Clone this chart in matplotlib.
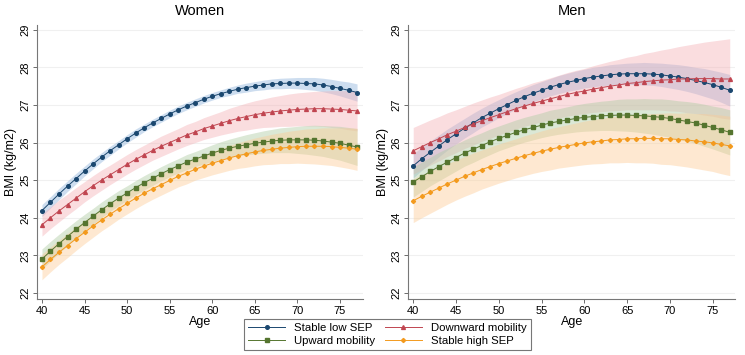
import numpy as np
import matplotlib
matplotlib.use("Agg")
import matplotlib.pyplot as plt

plt.rcParams["font.family"] = ["Liberation Sans", "DejaVu Sans"]

ages = np.arange(40, 78)

groups = ["Stable low SEP", "Downward mobility", "Upward mobility", "Stable high SEP"]

# Women: predicted BMI per age
w_low = [24.19, 24.41, 24.63, 24.84, 25.04, 25.24, 25.43, 25.61, 25.78, 25.94,
         26.10, 26.25, 26.39, 26.52, 26.64, 26.76, 26.87, 26.97, 27.06, 27.15,
         27.23, 27.30, 27.36, 27.42, 27.46, 27.50, 27.53, 27.56, 27.57, 27.58,
         27.58, 27.57, 27.56, 27.53, 27.49, 27.44, 27.39, 27.33]
w_down = [23.81, 24.00, 24.18, 24.35, 24.52, 24.69, 24.85, 25.00, 25.14, 25.28,
          25.42, 25.55, 25.67, 25.79, 25.90, 26.00, 26.10, 26.20, 26.28, 26.37,
          26.44, 26.51, 26.58, 26.64, 26.69, 26.74, 26.78, 26.81, 26.84, 26.86,
          26.88, 26.89, 26.90, 26.90, 26.89, 26.88, 26.86, 26.84]
w_up = [22.90, 23.11, 23.31, 23.50, 23.69, 23.87, 24.04, 24.21, 24.37, 24.52,
        24.66, 24.80, 24.93, 25.05, 25.17, 25.28, 25.38, 25.48, 25.56, 25.64,
        25.72, 25.79, 25.85, 25.90, 25.94, 25.98, 26.01, 26.04, 26.06, 26.07,
        26.07, 26.07, 26.06, 26.04, 26.01, 25.98, 25.93, 25.88]
w_high = [22.69, 22.89, 23.08, 23.26, 23.44, 23.61, 23.78, 23.94, 24.09, 24.24,
          24.38, 24.52, 24.65, 24.77, 24.88, 24.99, 25.10, 25.19, 25.29, 25.37,
          25.45, 25.52, 25.59, 25.65, 25.70, 25.75, 25.79, 25.82, 25.85, 25.87,
          25.89, 25.90, 25.90, 25.90, 25.89, 25.87, 25.85, 25.82]

# Women: 95% CI half-widths
w_low_ci = [.16, .15, .15, .14, .14, .13, .13, .12, .12, .11, .11, .11, .10, .10,
            .10, .10, .10, .10, .10, .10, .10, .10, .11, .11, .12, .12, .13, .13,
            .14, .14, .15, .16, .17, .18, .19, .20, .22, .23]
w_down_ci = [.30, .29, .29, .28, .28, .27, .27, .27, .26, .26, .26, .26, .26, .26,
             .27, .27, .27, .28, .28, .29, .30, .31, .33, .34, .36, .37, .38, .40,
             .41, .43, .44, .45, .46, .47, .49, .50, .52, .53]
w_up_ci = [.27, .26, .25, .24, .23, .22, .21, .21, .20, .20, .19, .19, .19, .19,
           .19, .19, .19, .20, .20, .21, .22, .23, .24, .25, .27, .28, .30, .31,
           .33, .34, .36, .38, .40, .41, .43, .45, .47, .49]
w_high_ci = [.34, .33, .32, .32, .31, .30, .30, .29, .29, .28, .28, .28, .28, .28,
             .28, .28, .28, .29, .29, .30, .31, .32, .33, .34, .36, .37, .38, .40,
             .41, .43, .44, .46, .47, .49, .50, .52, .54, .56]

# Men: predicted BMI per age
m_low = [25.38, 25.57, 25.74, 25.91, 26.08, 26.23, 26.38, 26.52, 26.66, 26.78,
         26.90, 27.01, 27.12, 27.22, 27.31, 27.39, 27.47, 27.54, 27.60, 27.65,
         27.70, 27.74, 27.77, 27.80, 27.82, 27.83, 27.83, 27.83, 27.82, 27.80,
         27.77, 27.74, 27.70, 27.65, 27.60, 27.54, 27.47, 27.39]
m_down = [25.78, 25.89, 26.00, 26.10, 26.21, 26.30, 26.40, 26.49, 26.58, 26.66,
          26.74, 26.82, 26.90, 26.97, 27.04, 27.10, 27.16, 27.22, 27.28, 27.33,
          27.37, 27.42, 27.46, 27.50, 27.53, 27.57, 27.59, 27.62, 27.64, 27.66,
          27.67, 27.69, 27.69, 27.70, 27.70, 27.70, 27.69, 27.69]
m_up = [24.95, 25.09, 25.23, 25.36, 25.48, 25.60, 25.72, 25.82, 25.92, 26.02,
        26.11, 26.19, 26.27, 26.34, 26.40, 26.46, 26.52, 26.56, 26.60, 26.64,
        26.67, 26.69, 26.71, 26.72, 26.73, 26.73, 26.72, 26.71, 26.69, 26.67,
        26.64, 26.60, 26.56, 26.52, 26.46, 26.40, 26.34, 26.27]
m_high = [24.45, 24.57, 24.68, 24.79, 24.90, 25.00, 25.10, 25.19, 25.28, 25.36,
          25.44, 25.51, 25.58, 25.65, 25.71, 25.77, 25.82, 25.87, 25.91, 25.95,
          25.99, 26.02, 26.04, 26.07, 26.08, 26.10, 26.10, 26.11, 26.11, 26.10,
          26.10, 26.08, 26.07, 26.04, 26.02, 25.99, 25.95, 25.91]

# Men: 95% CI half-widths
m_low_ci = [.32, .31, .30, .29, .28, .27, .26, .26, .25, .25, .24, .24, .23, .23,
            .23, .23, .23, .24, .24, .25, .25, .26, .26, .27, .27, .28, .29, .30,
            .30, .31, .32, .33, .34, .35, .37, .38, .40, .42]
m_down_ci = [.62, .61, .60, .59, .58, .57, .56, .56, .55, .55, .54, .54, .54, .54,
             .55, .55, .56, .57, .58, .59, .60, .62, .64, .66, .68, .70, .72, .75,
             .77, .80, .83, .86, .90, .93, .97, 1.00, 1.04, 1.07]
m_up_ci = [.40, .39, .38, .38, .37, .36, .35, .35, .34, .34, .33, .33, .33, .33,
           .33, .33, .34, .34, .35, .36, .37, .38, .39, .40, .42, .43, .44, .46,
           .47, .49, .50, .51, .53, .54, .56, .57, .59, .60]
m_high_ci = [.58, .57, .56, .55, .54, .53, .53, .53, .52, .52, .52, .52, .52, .53,
             .53, .54, .55, .55, .56, .57, .58, .59, .60, .61, .62, .63, .64, .65,
             .66, .68, .69, .70, .72, .73, .75, .76, .78, .79]

line_cols = ["#1a476f", "#c04550", "#55752f", "#f39a1e"]
band_cols = ["#9dbde0", "#f4aeb4", "#b0cca4", "#fdca92"]
band_alpha = [0.5, 0.42, 0.45, 0.42]
markers = ["o", "^", "s", "D"]
msizes = [2.6, 2.8, 2.5, 2.1]


def panel(ax, title, means, cis):
    for i in range(4):
        m = np.array(means[i])
        h = np.array(cis[i])
        ax.fill_between(ages, m - h, m + h, color=band_cols[i],
                        alpha=band_alpha[i], linewidth=0)
    for i in range(4):
        ax.plot(ages, means[i], color=line_cols[i], marker=markers[i],
                markersize=msizes[i], linewidth=0.7, label=groups[i])
    ax.set_title(title, fontsize=10.5, pad=7)
    ax.set_xlim(39.42, 77.65)
    ax.set_ylim(21.84, 29.13)
    ax.set_xticks([40, 45, 50, 55, 60, 65, 70, 75])
    ax.set_yticks(range(22, 30))
    ax.set_xlabel("Age", fontsize=9, labelpad=0)
    ax.set_ylabel("BMI (kg/m2)", fontsize=9, labelpad=2)
    for lab in ax.get_yticklabels():
        lab.set_rotation(90)
        lab.set_va("center")
    ax.tick_params(labelsize=8, length=3, width=0.6, color="#555555", pad=2)
    ax.grid(axis="y", color="#f0f0f0", linewidth=0.8)
    ax.set_axisbelow(True)
    for s in ["top", "right"]:
        ax.spines[s].set_visible(False)
    for s in ["left", "bottom"]:
        ax.spines[s].set_color("#777777")
        ax.spines[s].set_linewidth(0.8)


fig = plt.figure(figsize=(7.45, 3.55), dpi=100)
ax1 = fig.add_axes([0.0497, 0.158, 0.437, 0.772])
ax2 = fig.add_axes([0.548, 0.158, 0.439, 0.772])

panel(ax1, "Women", [w_low, w_down, w_up, w_high],
      [w_low_ci, w_down_ci, w_up_ci, w_high_ci])
panel(ax2, "Men", [m_low, m_down, m_up, m_high],
      [m_low_ci, m_down_ci, m_up_ci, m_high_ci])

handles, labels = ax1.get_legend_handles_labels()
order = [0, 2, 1, 3]
leg = fig.legend([handles[i] for i in order], [labels[i] for i in order],
                 loc="center", bbox_to_anchor=(0.52, 0.057), ncol=2,
                 fontsize=8.2, frameon=True, fancybox=False, handlelength=3.2,
                 columnspacing=0.9, borderpad=0.35, labelspacing=0.25,
                 handletextpad=0.8)
leg.get_frame().set_edgecolor("#555555")
leg.get_frame().set_linewidth(0.8)

fig.savefig("out.png", dpi=100)
